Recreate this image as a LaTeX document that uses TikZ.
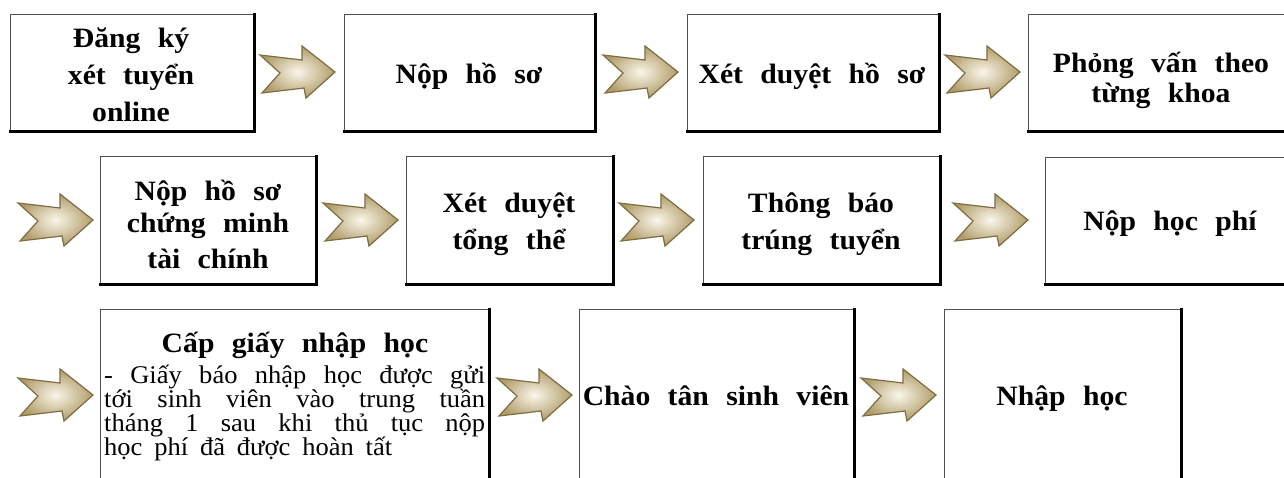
\documentclass[tikz,border=0pt]{standalone}
\usepackage{fontspec}
\setmainfont{Liberation Serif}
\newfontfamily\ttlfamily[FakeStretch=1.06]{Liberation Serif}
\newfontfamily\parafamily[FakeStretch=1.04]{Liberation Serif}
\definecolor{arrowin}{HTML}{FAF6EA}
\definecolor{arrowout}{HTML}{B09C68}
\definecolor{arrowline}{HTML}{7E6C42}
\definecolor{thinedge}{HTML}{505050}
\newcommand{\wideword}{\spaceskip=0.62em\relax}
\tikzset{
  box/.style={draw=thinedge, line width=1.1pt, fill=white, inner sep=0pt, anchor=north west},
  shadowedge/.style={draw=black, line width=3pt, line cap=rect},
  ttl/.style={font={\ttlfamily\bfseries\fontsize{28}{35}\selectfont\wideword}, anchor=base, inner sep=0pt},
  para/.style={font={\parafamily\fontsize{25.5}{23.6}\selectfont}, anchor=base west, inner sep=0pt},
  pics/chev/.style={code={
    \path[shading=radial, inner color=arrowin, outer color=arrowout, draw=arrowline, line width=1.2pt, line join=miter]
      (0,-17) -- (42,-12) -- (42,-26) -- (75,0) -- (46,26) -- (44,16) -- (2,21) -- (20,1) -- cycle;
  }}
}
\newcommand{\mkbox}[5]{% name, x1,y1,x2,y2
  \node[box, minimum width=#4-#2, minimum height=#5-#3] (#1) at (#2,#3) {};
  \draw[shadowedge] (#1.north east) -- (#1.south east) -- (#1.south west);
}
\begin{document}
\begin{tikzpicture}[x=1pt,y=-1pt]
\useasboundingbox (0,0) rectangle (1284,477);
\clip (0,0) rectangle (1284,477);
\fill[white] (0,0) rectangle (1284,477);
% boxes
\mkbox{b1}{10}{14}{253}{130}
\mkbox{b2}{344}{14}{594}{130}
\mkbox{b3}{687}{14}{938}{130}
\mkbox{b4}{1028}{14}{1300}{130}
\mkbox{b5}{100}{156}{315}{283}
\mkbox{b6}{406}{156}{612}{283}
\mkbox{b7}{703}{156}{939}{283}
\mkbox{b8}{1045}{157}{1300}{283}
\mkbox{b9}{100}{309}{488}{500}
\mkbox{b10}{579}{309}{853}{500}
\mkbox{b11}{944}{309}{1180}{500}
% arrows
\pic at (260,72) {chev};
\pic at (603,72) {chev};
\pic at (945,72) {chev};
\pic at (18,220) {chev};
\pic at (323,220) {chev};
\pic at (619,220) {chev};
\pic at (953,220) {chev};
\pic at (18,395) {chev};
\pic at (497,395) {chev};
\pic at (861,395) {chev};
% texts
\node[ttl] (t1a) at (131,47) {Đăng ký};
\node[ttl] (t1b) at (131,84) {xét tuyển};
\node[ttl] (t1c) at (131,121) {online};
\node[ttl] (t2) at (469,83) {Nộp hồ sơ};
\node[ttl] (t3) at (812,83) {Xét duyệt hồ sơ};
\node[ttl] (t4a) at (1161,72) {Phỏng vấn theo};
\node[ttl] (t4b) at (1161,102) {từng khoa};
\node[ttl] (t5a) at (208,200) {Nộp hồ sơ};
\node[ttl] (t5b) at (208,232) {chứng minh};
\node[ttl] (t5c) at (208,268) {tài chính};
\node[ttl] (t6a) at (509,212) {Xét duyệt};
\node[ttl] (t6b) at (509,249) {tổng thể};
\node[ttl] (t7a) at (821,212) {Thông báo};
\node[ttl] (t7b) at (821,249) {trúng tuyển};
\node[ttl] (t8) at (1170,230) {Nộp học phí};
\node[ttl] (t9) at (295,352) {Cấp giấy nhập học};
\node[para] (p1) at (104,383) {\makebox[381pt][s]{- Giấy báo nhập học được gửi}};
\node[para] (p2) at (104,407) {\makebox[381pt][s]{tới sinh viên vào trung tuần}};
\node[para] (p3) at (104,431) {\makebox[381pt][s]{tháng 1 sau khi thủ tục nộp}};
\node[para] (p4) at (104,455) {\makebox[288pt][s]{học phí đã được hoàn tất}};
\node[ttl] (t10) at (716,405) {Chào tân sinh viên};
\node[ttl] (t11) at (1062,405) {Nhập học};
\end{tikzpicture}
\end{document}
